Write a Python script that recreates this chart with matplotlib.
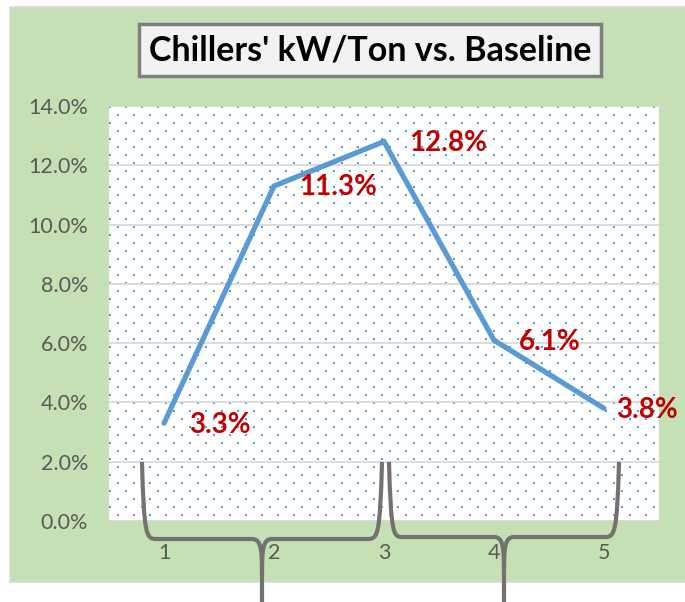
import numpy as np
import matplotlib
matplotlib.use("Agg")
import matplotlib.pyplot as plt
from matplotlib.patches import Rectangle, PathPatch
from matplotlib.path import Path

# chart data
periods = [1, 2, 3, 4, 5]
pct_vs_baseline = [3.3, 11.3, 12.8, 6.1, 3.8]
y_ticks = [0, 2, 4, 6, 8, 10, 12, 14]
title = "Chillers' kW/Ton vs. Baseline"

W, H = 685, 602
plt.rcParams["font.family"] = ["Lato", "DejaVu Sans"]

fig = plt.figure(figsize=(W / 100, H / 100), dpi=100)
fig.patch.set_facecolor("white")


def fx(px):
    return px / W


def fy(py):
    return 1 - py / H


# green chart area
fig.patches.append(Rectangle((fx(10), fy(582)), 1 - fx(10) + 0.01, fy(7) - fy(582),
                             transform=fig.transFigure, facecolor="#c5e0b4",
                             edgecolor="#d9d9d9", linewidth=1.2, zorder=-10))

ax = fig.add_axes([fx(109), fy(521), fx(659) - fx(109), fy(106) - fy(521)])
ax.set_facecolor("white")

# dotted fill pattern of the plot area
ph, pw = 415, 550
yy, xx = np.mgrid[0:ph, 0:pw]
dots = (yy % 8 < 2) & (((xx + (yy // 8 % 2) * 8) % 16) < 2)
img = np.ones((ph, pw, 3))
img[dots] = [0x5b / 255, 0x9b / 255, 0xd5 / 255]
ax.imshow(img, extent=(0.5, 5.5, 0, 14), aspect="auto", interpolation="nearest", zorder=0)

for t in y_ticks:
    ax.axhline(t, color="#d9d9d9", linewidth=1.3, zorder=1)

ax.plot(periods, pct_vs_baseline, color="#5b9bd5", linewidth=3.8,
        solid_capstyle="round", solid_joinstyle="miter", zorder=3)

for i, (x, v) in enumerate(zip(periods, pct_vs_baseline)):
    dx = 9 if i == len(periods) - 1 else 18
    ax.annotate(f"{v:.1f}%", (x, v), xytext=(dx, -1), textcoords="offset points",
                ha="left", va="center", color="#c00000", fontsize=20,
                fontweight="bold", annotation_clip=False, zorder=4)

ax.set_xlim(0.5, 5.5)
ax.set_ylim(0, 14)
ax.set_xticks(periods)
ax.set_yticks(y_ticks)
ax.set_yticklabels([f"{t:.1f}%" for t in y_ticks])
ax.tick_params(length=0, labelsize=15.5, labelcolor="#595959")
ax.tick_params(axis="y", pad=15)
ax.tick_params(axis="x", pad=16)
for s in ax.spines.values():
    s.set_visible(False)

# title box
fig.text(fx(370), fy(50), title, ha="center", va="center", fontsize=24.5,
         fontweight="bold", color="black",
         bbox=dict(boxstyle="square,pad=0.3", facecolor="#f2f2f2",
                   edgecolor="#7f7f7f", linewidth=2.5))


# curly braces drawn over the bottom of the chart
def brace(xl, xl2, xt, xr2, xr, ytop, ymid):
    tip_y = ymid + 35
    verts = [(xl, ytop), (xl + 2, ymid - 5), (xl + 4, ymid), (xl2, ymid),
             (xt - 10, ymid),
             (xt - 1, ymid), (xt, ymid + 10), (xt, tip_y),
             (xt, 640)]
    codes = [Path.MOVETO, Path.CURVE4, Path.CURVE4, Path.CURVE4,
             Path.LINETO,
             Path.CURVE4, Path.CURVE4, Path.CURVE4,
             Path.LINETO]
    verts2 = [(xt, tip_y), (xt, ymid + 10), (xt + 1, ymid), (xt + 10, ymid),
              (xr2, ymid),
              (xr - 4, ymid), (xr - 2, ymid - 5), (xr, ytop)]
    codes2 = [Path.MOVETO, Path.CURVE4, Path.CURVE4, Path.CURVE4,
              Path.LINETO,
              Path.CURVE4, Path.CURVE4, Path.CURVE4]
    for v, c in ((verts, codes), (verts2, codes2)):
        pts = [(fx(a), fy(b)) for a, b in v]
        fig.patches.append(PathPatch(Path(pts, c), transform=fig.transFigure,
                                     facecolor="none", edgecolor="#767171",
                                     linewidth=3, zorder=5))


brace(142, 156, 262, 368, 382, 462, 539)
brace(389, 402, 504, 605, 619, 462, 537)

fig.savefig("out.png", dpi=100)
